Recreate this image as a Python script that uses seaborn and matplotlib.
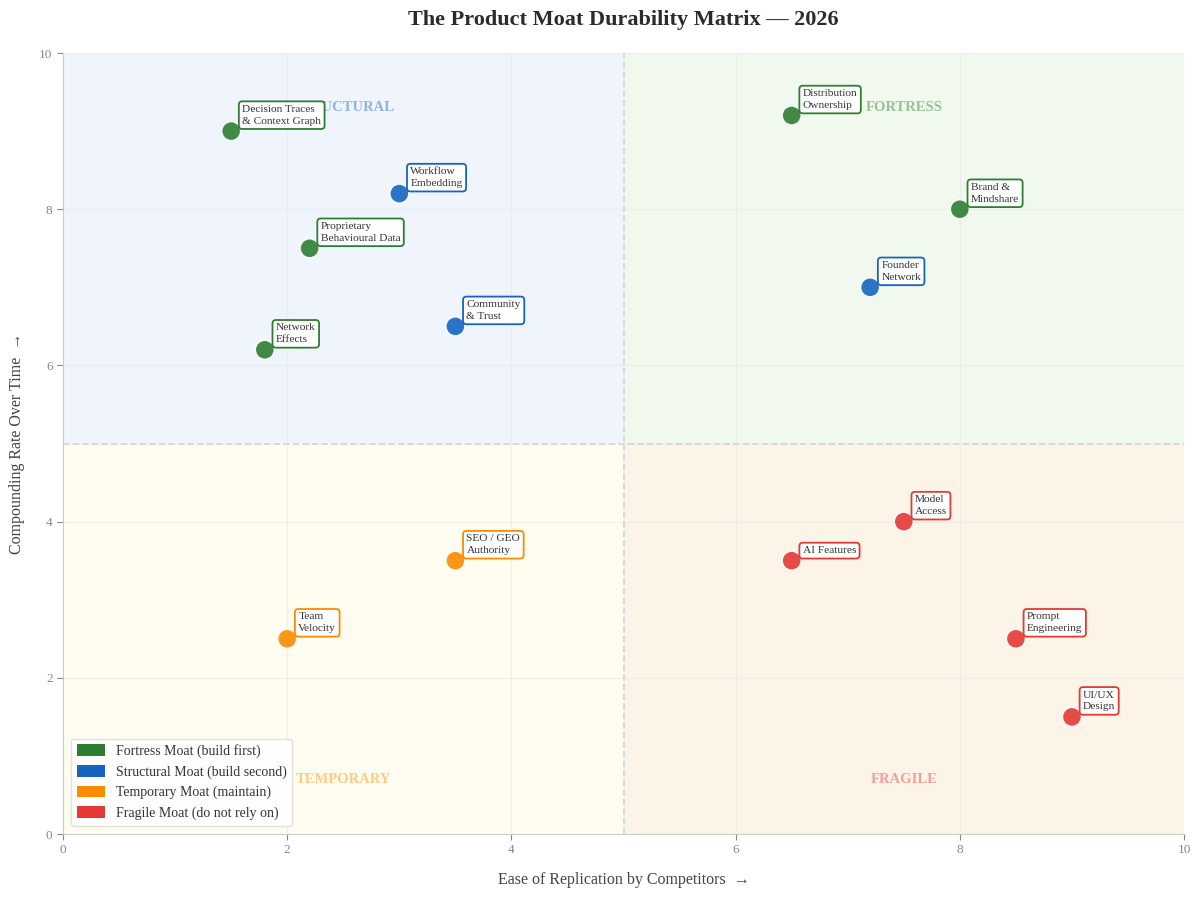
import matplotlib
matplotlib.use("Agg")
import matplotlib.pyplot as plt
import seaborn as sns
import pandas as pd
from matplotlib.patches import Patch

# ---- data ----
names = ["Decision Traces\n& Context Graph", "Proprietary\nBehavioural Data", "Network\nEffects",
         "Distribution\nOwnership", "Brand &\nMindshare",
         "Workflow\nEmbedding", "Community\n& Trust", "Founder\nNetwork",
         "SEO / GEO\nAuthority", "Team\nVelocity",
         "Model\nAccess", "AI Features", "Prompt\nEngineering", "UI/UX\nDesign"]
ease = [1.5, 2.2, 1.8, 6.5, 8.0, 3.0, 3.5, 7.2, 3.5, 2.0, 7.5, 6.5, 8.5, 9.0]
compounding = [9.0, 7.5, 6.2, 9.2, 8.0, 8.2, 6.5, 7.0, 3.5, 2.5, 4.0, 3.5, 2.5, 1.5]
moat_type = ["Fortress"] * 5 + ["Structural"] * 3 + ["Temporary"] * 2 + ["Fragile"] * 4

types = ["Fortress", "Structural", "Temporary", "Fragile"]
legend_labels = ["Fortress Moat (build first)", "Structural Moat (build second)",
                 "Temporary Moat (maintain)", "Fragile Moat (do not rely on)"]
colors = {"Fortress": "#2e7d32", "Structural": "#1565c0", "Temporary": "#fb8c00", "Fragile": "#e53935"}
quad_labels = {"Structural": "STRUCTURAL", "Fortress": "FORTRESS", "Temporary": "TEMPORARY", "Fragile": "FRAGILE"}
quad_bg = {"Structural": "#f0f5fd", "Fortress": "#f1f8ee", "Temporary": "#fefdf0", "Fragile": "#fdf4e8"}

df = pd.DataFrame({"name": names, "ease": ease, "comp": compounding, "type": moat_type})

# ---- style ----
sns.set_theme(style="white")
plt.rcParams["font.family"] = ["Liberation Serif", "DejaVu Serif"]

fig, ax = plt.subplots(figsize=(12, 8.97), dpi=100)
fig.subplots_adjust(left=0.0525, right=0.9867, top=0.9409, bottom=0.0702)

# quadrant backgrounds
ax.axvspan(0, 5, ymin=0.5, ymax=1.0, color=quad_bg["Structural"], zorder=0, lw=0)
ax.axvspan(5, 10, ymin=0.5, ymax=1.0, color=quad_bg["Fortress"], zorder=0, lw=0)
ax.axvspan(0, 5, ymin=0.0, ymax=0.5, color=quad_bg["Temporary"], zorder=0, lw=0)
ax.axvspan(5, 10, ymin=0.0, ymax=0.5, color=quad_bg["Fragile"], zorder=0, lw=0)

ax.axvline(5, color="#d6d6d6", ls="--", lw=1.3, zorder=1)
ax.axhline(5, color="#d6d6d6", ls="--", lw=1.3, zorder=1)

# quadrant labels
quad_pos = {"Structural": (2.5, 9.3), "Fortress": (7.5, 9.3), "Temporary": (2.5, 0.7), "Fragile": (7.5, 0.7)}
for k, (qx, qy) in quad_pos.items():
    ax.text(qx, qy, quad_labels[k], ha="center", va="center", fontsize=10.5, fontweight="bold",
            color=colors[k], alpha=0.45, zorder=2)

sns.scatterplot(data=df, x="ease", y="comp", hue="type", hue_order=types, palette=colors,
                s=190, edgecolor="white", linewidth=1.2, alpha=0.9, ax=ax, zorder=4, legend=False)

for _, r in df.iterrows():
    ax.annotate(r["name"], (r["ease"], r["comp"]), xytext=(8, 4), textcoords="offset points",
                ha="left", va="bottom", fontsize=8.2, color="#333333", linespacing=1.4,
                bbox=dict(boxstyle="round,pad=0.3", fc="white", ec=colors[r["type"]], lw=1.3),
                zorder=5)

ax.set_xlim(0, 10)
ax.set_ylim(0, 10)
ax.set_xticks([0, 2, 4, 6, 8, 10])
ax.set_yticks([0, 2, 4, 6, 8, 10])
ax.grid(True, color="#e6e6e6", lw=0.8, alpha=0.6, zorder=0)
ax.set_axisbelow(True)
ax.tick_params(axis="both", labelsize=9.5, colors="#888888", length=4, width=0.8, left=True, bottom=True)
sns.despine(ax=ax)
for s in ["left", "bottom"]:
    ax.spines[s].set_color("#cccccc")
    ax.spines[s].set_linewidth(0.8)

ax.set_xlabel("Ease of Replication by Competitors  →", fontsize=11.5, color="#444444", labelpad=11)
ax.set_ylabel("Compounding Rate Over Time  →", fontsize=11.5, color="#444444", labelpad=10)
ax.set_title("The Product Moat Durability Matrix — 2026", fontsize=16, fontweight="bold",
             color="#2b2b2b", pad=20)

handles = [Patch(facecolor=colors[t], edgecolor="none", label=l) for t, l in zip(types, legend_labels)]
leg = ax.legend(handles=handles, loc="lower left", fontsize=10, frameon=True, framealpha=0.9,
                edgecolor="#dddddd", handlelength=2.0, handleheight=0.9, borderaxespad=0.6)
for t in leg.get_texts():
    t.set_color("#333333")
leg.set_zorder(6)

fig.savefig("out.png", dpi=100)
